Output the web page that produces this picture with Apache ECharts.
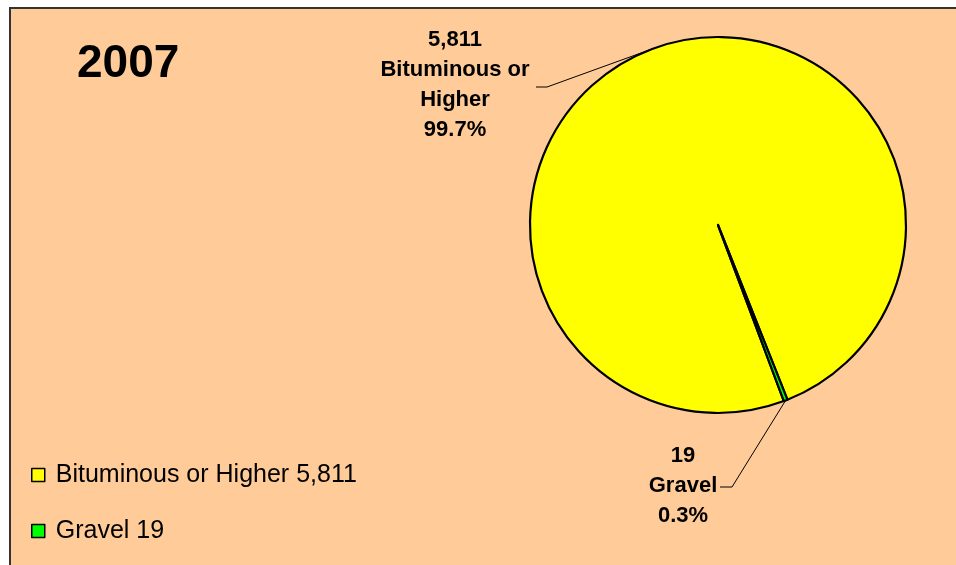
<!DOCTYPE html>
<html>
<head>
<meta charset="utf-8">
<script src="https://cdn.jsdelivr.net/npm/echarts@6/dist/echarts.min.js"></script>
<style>
  html, body { margin: 0; padding: 0; background: #fff; }
  #chart { width: 956px; height: 565px; }
</style>
</head>
<body>
<div id="chart"></div>
<script>
const categories = ['Bituminous or Higher', 'Gravel'];
const values = [5811, 19];
const sliceColors = ['#FFFF00', '#00FF00'];
const yearTitle = '2007';

// where each data label sits, and the bend of its leader line
const labelSpots = [
  { x: 455, y: 85, bend: [547, 87], end: [536, 87] },
  { x: 683, y: 486, bend: [732, 487], end: [720, 487] },
];

const fmt = v => v.toLocaleString('en-US');
const font = 'Arial, "Liberation Sans", sans-serif';

const chart = echarts.init(document.getElementById('chart'));
chart.setOption({
  backgroundColor: '#fff',
  animation: false,
  graphic: [{
    type: 'rect', z: -10, silent: true,
    shape: { x: 10, y: 8, width: 960, height: 570 },
    style: { fill: '#FFCC99', stroke: '#333', lineWidth: 2 },
  }],
  title: {
    text: yearTitle, left: 77, top: 41, padding: 0,
    textStyle: { fontFamily: font, fontSize: 46, fontWeight: 'bold', color: '#000', lineHeight: 46 },
  },
  legend: {
    orient: 'vertical', left: 31, top: 462, padding: 0,
    itemWidth: 13, itemHeight: 13, itemGap: 30,
    icon: 'rect',
    itemStyle: { borderColor: '#000', borderWidth: 1.5 },
    formatter: name => name + ' ' + fmt(values[categories.indexOf(name)]),
    textStyle: { fontFamily: font, fontSize: 25, color: '#000', lineHeight: 26, padding: [0, 0, 0, 6] },
  },
  series: [{
    type: 'pie',
    center: [718, 225],
    radius: 188,
    startAngle: 290.5,
    clockwise: true,
    percentPrecision: 1,
    avoidLabelOverlap: false,
    itemStyle: { borderColor: '#000', borderWidth: 2.2 },
    data: categories.map((c, i) => ({ name: c, value: values[i], itemStyle: { color: sliceColors[i] } })),
    label: {
      show: true,
      position: 'outside',
      fontFamily: font, fontSize: 22, fontWeight: 'bold', color: '#000', lineHeight: 30,
      align: 'center',
      formatter: p => fmt(p.value) + '\n' + p.name.replace(' or ', ' or\n') + '\n' + p.percent.toFixed(1) + '%',
    },
    labelLine: { show: true, lineStyle: { color: '#000', width: 1 } },
    labelLayout: params => {
      const s = labelSpots[params.dataIndex];
      const pts = params.labelLinePoints;
      return {
        x: s.x, y: s.y, align: 'center', verticalAlign: 'middle',
        labelLinePoints: [pts[0], s.bend, s.end],
      };
    },
  }],
});
</script>
</body>
</html>
